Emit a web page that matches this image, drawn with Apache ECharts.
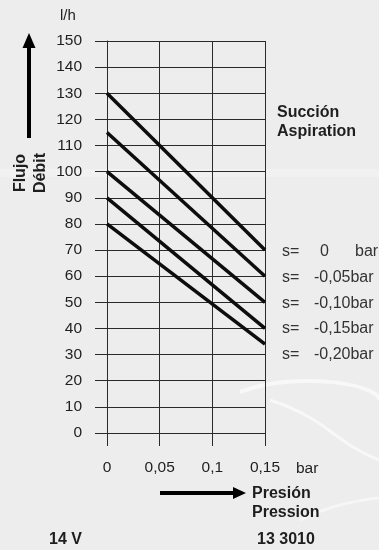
<!DOCTYPE html>
<html>
<head>
<meta charset="utf-8">
<script src="https://cdn.jsdelivr.net/npm/echarts@6/dist/echarts.min.js"></script>
<style>
html,body{margin:0;padding:0;background:#ededed;}
#c{width:379px;height:550px;}
</style>
</head>
<body>
<div id="c"></div>
<script>
// Data
var pressure = [0, 0.15];                       // bar
var flowS000 = [130, 70];                       // s = 0 bar
var flowS005 = [115, 60];                       // s = -0,05 bar
var flowS010 = [100, 50];                       // s = -0,10 bar
var flowS015 = [90, 40];                        // s = -0,15 bar
var flowS020 = [80, 34];                        // s = -0,20 bar
var suctionLabels = ['0', '-0,05', '-0,10', '-0,15', '-0,20'];
var xTickLabels = ['0', '0,05', '0,1', '0,15'];
var yTicks = [0,10,20,30,40,50,60,70,80,90,100,110,120,130,140,150];

var allFlows = [flowS000, flowS005, flowS010, flowS015, flowS020];
var FONT = '"Liberation Sans", Arial, sans-serif';
var TXT = '#1e1e1e';
var GRIDC = '#2a2a2a';

function pairs(ys) { return pressure.map(function (x, i) { return [x, ys[i]]; }); }

var series = allFlows.map(function (ys, i) {
  return {
    name: 's= ' + suctionLabels[i] + 'bar',
    type: 'line',
    data: pairs(ys),
    symbol: 'none',
    silent: true,
    lineStyle: { color: '#0d0d0d', width: 3.5 },
    animation: false
  };
});

var graphic = [];
// background swooshes
graphic.push({ type: 'bezierCurve', silent: true, z: -10,
  shape: { x1: 240, y1: 392, cpx1: 300, cpy1: 370, cpx2: 380, cpy2: 385, x2: 379, y2: 400 },
  style: { stroke: '#ffffff', lineWidth: 4, opacity: 0.6, fill: null } });
graphic.push({ type: 'bezierCurve', silent: true, z: -10,
  shape: { x1: 270, y1: 400, cpx1: 330, cpy1: 420, cpx2: 330, cpy2: 440, x2: 379, y2: 460 },
  style: { stroke: '#ffffff', lineWidth: 3, opacity: 0.6, fill: null } });
graphic.push({ type: 'bezierCurve', silent: true, z: -10,
  shape: { x1: 300, y1: 520, cpx1: 330, cpy1: 505, cpx2: 360, cpy2: 500, x2: 379, y2: 498 },
  style: { stroke: '#ffffff', lineWidth: 3, opacity: 0.5, fill: null } });
graphic.push({ type: 'rect', silent: true, z: -10,
  shape: { x: 0, y: 169, width: 379, height: 8 },
  style: { fill: '#f4f4f4', opacity: 0.6 } });

// unit label
graphic.push({ type: 'text', left: 60, top: 8, style: { text: 'l/h', font: '15px ' + FONT, fill: TXT } });
// vertical arrow
graphic.push({ type: 'rect', shape: { x: 27, y: 46, width: 4, height: 92 }, style: { fill: '#000' } });
graphic.push({ type: 'polygon', shape: { points: [[22.5, 48], [35.5, 48], [29, 33]] }, style: { fill: '#000' } });
// y title rotated
graphic.push({ type: 'text', x: 31, y: 173, rotation: Math.PI / 2,
  style: { text: 'Flujo\nDébit', font: 'bold 16px ' + FONT, fill: TXT, align: 'center', verticalAlign: 'middle', lineHeight: 20 } });
// legend title
graphic.push({ type: 'text', x: 277, y: 113, style: { text: 'Succión', font: 'bold 16px ' + FONT, fill: TXT, verticalAlign: 'middle' } });
graphic.push({ type: 'text', x: 277, y: 132, style: { text: 'Aspiration', font: 'bold 16px ' + FONT, fill: TXT, verticalAlign: 'middle' } });
// suction labels
var labelY = [252, 277.7, 303.4, 329, 354.7];
var SF = '16px ' + FONT;
suctionLabels.forEach(function (s, i) {
  graphic.push({ type: 'text', x: 282, y: labelY[i], style: { text: 's=', font: SF, fill: '#333', verticalAlign: 'middle' } });
  if (s === '0') {
    graphic.push({ type: 'text', x: 320, y: labelY[i], style: { text: s, font: SF, fill: '#333', verticalAlign: 'middle' } });
    graphic.push({ type: 'text', x: 355, y: labelY[i], style: { text: 'bar', font: SF, fill: '#333', verticalAlign: 'middle' } });
  } else {
    graphic.push({ type: 'text', x: 314, y: labelY[i], style: { text: s + 'bar', font: SF, fill: '#333', verticalAlign: 'middle' } });
  }
});
// x unit
graphic.push({ type: 'text', x: 296, y: 469, style: { text: 'bar', font: '15.5px ' + FONT, fill: TXT, verticalAlign: 'middle' } });
// horizontal arrow
graphic.push({ type: 'rect', shape: { x: 160, y: 491, width: 75, height: 4 }, style: { fill: '#000' } });
graphic.push({ type: 'polygon', shape: { points: [[233, 487], [233, 499], [246, 493]] }, style: { fill: '#000' } });
graphic.push({ type: 'text', x: 252, y: 494, style: { text: 'Presión', font: 'bold 16px ' + FONT, fill: TXT, verticalAlign: 'middle' } });
graphic.push({ type: 'text', x: 252, y: 513, style: { text: 'Pression', font: 'bold 16px ' + FONT, fill: TXT, verticalAlign: 'middle' } });
graphic.push({ type: 'text', x: 49, y: 540, style: { text: '14 V', font: 'bold 16px ' + FONT, fill: TXT, verticalAlign: 'middle' } });
graphic.push({ type: 'text', x: 257, y: 540, style: { text: '13 3010', font: 'bold 16px ' + FONT, fill: TXT, verticalAlign: 'middle' } });

var chart = echarts.init(document.getElementById('c'), null, { renderer: 'canvas' });
chart.setOption({
  animation: false,
  backgroundColor: '#ededed',
  textStyle: { fontFamily: FONT },
  grid: { left: 107, right: 114, top: 41, bottom: 117, containLabel: false, outerBoundsMode: 'none' },
  xAxis: {
    type: 'value', min: 0, max: 0.15, interval: 0.05,
    axisLine: { show: true, lineStyle: { color: GRIDC, width: 1 } },
    axisTick: { show: true, length: 13, lineStyle: { color: GRIDC, width: 1 } },
    splitLine: { show: true, lineStyle: { color: GRIDC, width: 1 } },
    axisLabel: { margin: 27, fontSize: 15.5, color: TXT, fontFamily: FONT,
      formatter: function (v) { return xTickLabels[Math.round(v / 0.05)]; } }
  },
  yAxis: {
    type: 'value', min: yTicks[0], max: yTicks[yTicks.length - 1], interval: yTicks[1] - yTicks[0],
    axisLine: { show: true, lineStyle: { color: GRIDC, width: 1 } },
    axisTick: { show: true, length: 12, lineStyle: { color: GRIDC, width: 1 } },
    splitLine: { show: true, lineStyle: { color: GRIDC, width: 1 } },
    axisLabel: { margin: 25, fontSize: 15.5, color: TXT, fontFamily: FONT }
  },
  series: series,
  graphic: graphic
});
</script>
</body>
</html>
